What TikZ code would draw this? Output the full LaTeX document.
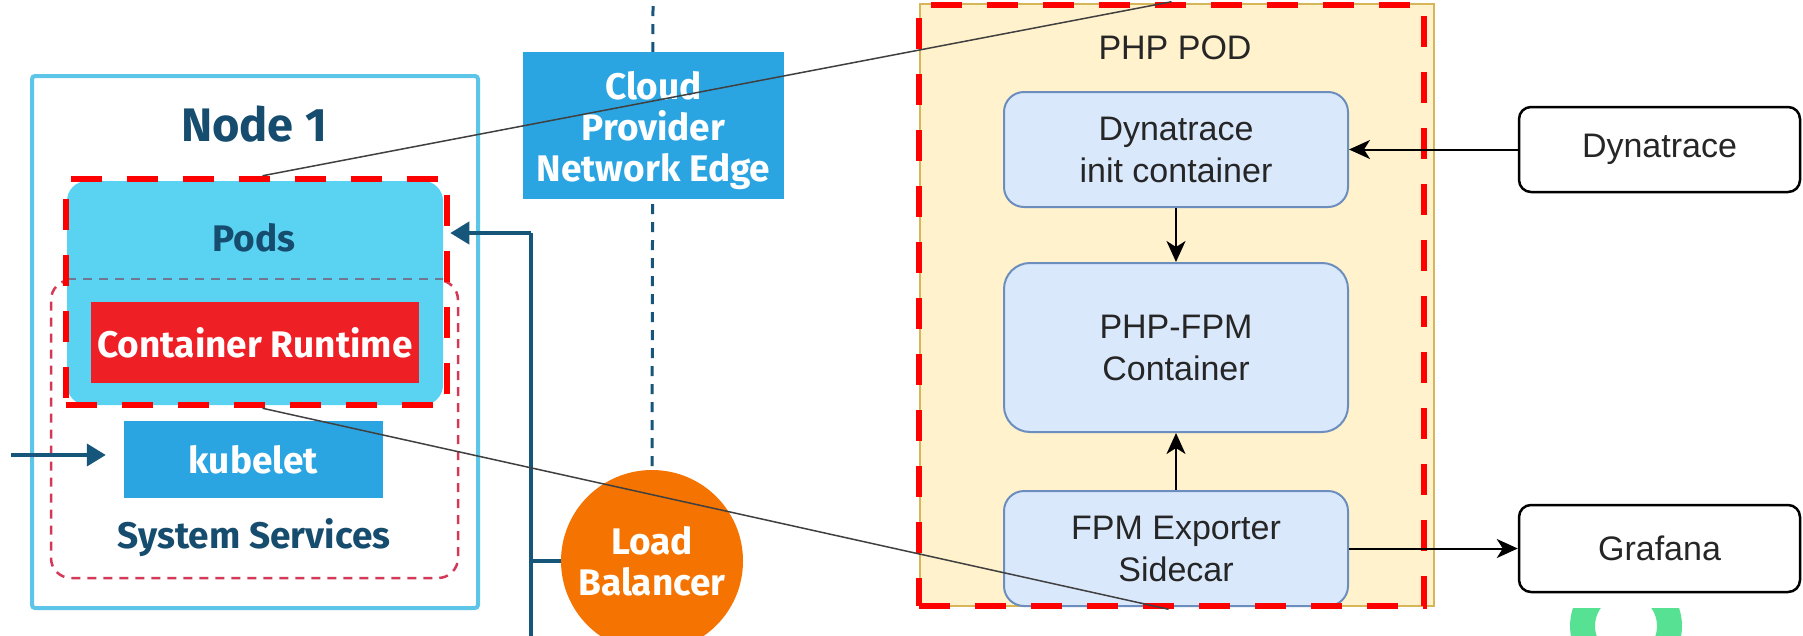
\documentclass[tikz,border=0pt]{standalone}
\usepackage{fontspec}
\setmainfont{Liberation Sans}
\newfontfamily\plexfont{Fira Sans}
\usetikzlibrary{arrows.meta,calc}

\definecolor{nodeblue}{RGB}{93,197,232}
\definecolor{podcyan}{RGB}{90,211,243}
\definecolor{navy}{RGB}{22,76,110}
\definecolor{sepgrey}{RGB}{110,120,145}
\definecolor{rtred}{RGB}{238,32,38}
\definecolor{sysred}{RGB}{212,58,88}
\definecolor{kblue}{RGB}{43,165,226}
\definecolor{trunkblue}{RGB}{23,86,123}
\definecolor{lborange}{RGB}{245,115,0}
\definecolor{podyellow}{RGB}{255,242,204}
\definecolor{podedge}{RGB}{214,182,86}
\definecolor{cfill}{RGB}{218,232,252}
\definecolor{cedge}{RGB}{108,142,191}
\definecolor{leafgreen}{RGB}{86,226,146}

\tikzset{
  leftbold/.style={font=\plexfont\bfseries\fontsize{37}{41}\selectfont, align=center},
  righttext/.style={font=\fontsize{34}{42}\selectfont, align=center, text=black!85},
  hotframe/.style={draw=red, line width=6.5pt, dash pattern=on 31pt off 25pt},
  bluebox/.style={rectangle, fill=kblue, inner sep=0pt, text=white, leftbold},
  cbox/.style={rectangle, rounded corners=20pt, fill=cfill, draw=cedge, line width=2pt, inner sep=0pt, righttext},
  extbox/.style={rectangle, rounded corners=12pt, fill=white, draw=black, line width=2.5pt, inner sep=0pt, righttext},
  trunk/.style={draw=trunkblue, line width=4pt},
  trunkarrow/.style={trunk, -{Triangle[length=19pt,width=22pt]}},
  flowarrow/.style={draw=black, line width=2pt, -{Stealth[length=21pt,width=19pt,inset=6pt]}},
  thinlink/.style={draw=black!75, line width=1.5pt},
}

\begin{document}
\begin{tikzpicture}[x=1pt,y=-1pt]
\clip (0,0) rectangle (1803,635);
\fill[white] (0,0) rectangle (1803,635);

% ---- worker node ----
\node[draw=nodeblue, line width=4pt, rounded corners=3pt, minimum width=446pt, minimum height=532pt, inner sep=0pt] (node1) at (255,342) {};
\node[leftbold, text=navy, font=\plexfont\bfseries\fontsize{47}{50}\selectfont] (node1label) at (254,124) {Node 1};

\node[draw=sysred, line width=2.5pt, dash pattern=on 9pt off 7pt, rounded corners=20pt, minimum width=407pt, minimum height=298pt, inner sep=0pt] (sys) at (254.5,429) {};

\node[fill=podcyan, rounded corners=20pt, minimum width=376pt, minimum height=224pt, inner sep=0pt] (pods) at (255,293) {};
\node[leftbold, text=navy] (podslabel) at (254,238) {Pods};
\coordinate (sepL) at (67,279);
\coordinate (sepR) at (443,279);
\draw[sepgrey, line width=2.5pt, dash pattern=on 9pt off 7pt] (sepL) -- (sepR);
\node[fill=rtred, minimum width=328pt, minimum height=81pt, inner sep=0pt, text=white, leftbold] (runtime) at (255,342.5) {Container Runtime};
\node[hotframe, minimum width=381pt, minimum height=226pt, inner sep=0pt] (podsframe) at (256.5,292) {};

\node[bluebox, minimum width=259pt, minimum height=77pt] (kubelet) at (253.5,459.5) {kubelet};
\node[leftbold, text=navy] (syslabel) at (254,538) {System Services};
\coordinate (kin) at (11,455);
\draw[trunkarrow, shorten >=18pt] (kin) -- (kin -| kubelet.west);

% ---- network edge and load balancer ----
\node[circle, fill=lborange, minimum size=182pt, inner sep=0pt, text=white, leftbold] (lb) at (652,561) {Load\\Balancer};
\coordinate (edgetop) at (653,6);
\draw[trunkblue, line width=3pt, dash pattern=on 10pt off 8pt] (edgetop) -- (lb.north);
\node[bluebox, minimum width=261pt, minimum height=147pt] (cloud) at (653.5,125.5) {};
\node[leftbold, text=white] (cloudlabel) at (653.5,131) {Cloud\\Provider\\Network Edge};

\coordinate (trunkbot) at (531,640);
\coordinate (trunktop) at (531,233);
\coordinate (trunklb) at (531,561);
\draw[trunk] (trunkbot) -- (trunktop);
\draw[trunkarrow] (trunktop) -- (trunktop -| podsframe.east);
\draw[trunk] (trunklb) -- (lb.west);

% ---- PHP pod ----
\node[fill=podyellow, draw=podedge, line width=2pt, minimum width=514pt, minimum height=602pt, inner sep=0pt] (phppod) at (1177,305) {};
\node[righttext] (phplabel) at (1175,48) {PHP POD};
\node[cbox, minimum width=344pt, minimum height=115pt] (init) at (1176,149.5) {Dynatrace\\init container};
\node[cbox, rounded corners=26pt, minimum width=344pt, minimum height=169pt] (fpm) at (1176,347.5) {PHP-FPM\\Container};
\node[cbox, minimum width=344pt, minimum height=115pt] (sidecar) at (1176,548.5) {FPM Exporter\\Sidecar};
\node[hotframe, minimum width=505pt, minimum height=601pt, inner sep=0pt] (phpframe) at (1171.5,305.5) {};

\draw[flowarrow] (init.south) -- (fpm.north);
\draw[flowarrow] (sidecar.north) -- (fpm.south);

% ---- external services ----
\node[extbox, minimum width=281pt, minimum height=85pt] (dyn) at (1659.5,149.5) {Dynatrace};
\node[extbox, minimum width=281pt, minimum height=87pt] (graf) at (1659.5,548.5) {Grafana};
\draw[flowarrow] (dyn.west) -- (dyn.west -| init.east);
\draw[flowarrow] (sidecar.east) -- (sidecar.east -| graf.west);

% ---- zoom links ----
\draw[thinlink] ([xshift=6pt]podsframe.north) -- (phpframe.north);
\draw[thinlink] ([xshift=6pt]podsframe.south) -- ([xshift=-3pt]phpframe.south);

% ---- green mark along the lower edge ----
\begin{scope}
\clip (1560,608) rectangle (1700,640);
\fill[leafgreen, even odd rule] (1626,626) circle (56pt) (1626,626) circle (31pt);
\end{scope}
\end{tikzpicture}
\end{document}
